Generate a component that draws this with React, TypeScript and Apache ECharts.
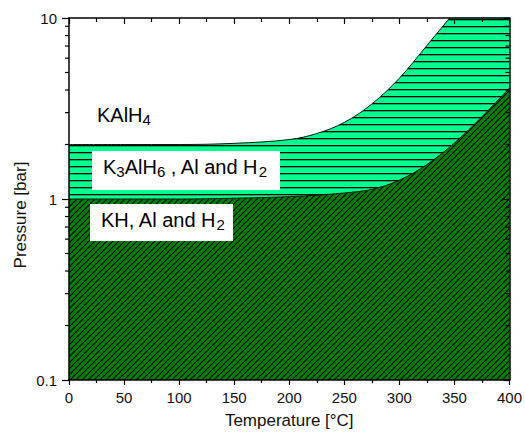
import React, { useEffect, useRef } from 'react';
import * as echarts from 'echarts';

// ---- data ----
const temperatures = [0, 50, 100, 150, 200, 225, 250, 275, 300, 325, 350, 375, 400];
// upper boundary: KAlH4 / K3AlH6 (bar)
const kalh4Boundary = [2.0, 2.0, 2.0, 2.03, 2.13, 2.3, 2.65, 3.35, 4.65, 7.05, 10.8, 17, 27];
// lower boundary: K3AlH6 / KH (bar)
const khBoundary = [1.0, 1.0, 1.0, 1.01, 1.03, 1.05, 1.08, 1.13, 1.27, 1.55, 2.04, 2.85, 4.1];
const yMajorTicks = [0.1, 1, 10];
const yMinorTicks = [0.2, 0.3, 0.4, 0.5, 0.6, 0.7, 0.8, 0.9, 2, 3, 4, 5, 6, 7, 8, 9];

const FONT = '"Liberation Sans", Arial, Helvetica, sans-serif';

function diagonalPattern() {
  const s = 6;
  const c = document.createElement('canvas');
  c.width = s;
  c.height = s;
  const g = c.getContext('2d')!;
  g.fillStyle = '#008000';
  g.fillRect(0, 0, s, s);
  g.strokeStyle = '#000000';
  g.lineWidth = 1.1;
  g.beginPath();
  g.moveTo(-1, s + 1);
  g.lineTo(s + 1, -1);
  g.moveTo(-2, 2);
  g.lineTo(2, -2);
  g.moveTo(s - 2, s + 2);
  g.lineTo(s + 2, s - 2);
  g.stroke();
  return { image: c.toDataURL(), repeat: 'repeat', imageWidth: s, imageHeight: s } as any;
}

function horizontalPattern() {
  const w = 4;
  const h = 7;
  const c = document.createElement('canvas');
  c.width = w;
  c.height = h;
  const g = c.getContext('2d')!;
  g.fillStyle = '#00FF8C';
  g.fillRect(0, 0, w, h);
  g.fillStyle = '#000000';
  g.fillRect(0, 5, w, 1.3);
  return { image: c.toDataURL(), repeat: 'repeat', imageWidth: w, imageHeight: h } as any;
}

const richStyles = {
  m: { fontSize: 20, fontFamily: FONT, color: '#000', lineHeight: 22, verticalAlign: 'top' },
  s: { fontSize: 15, fontFamily: FONT, color: '#000', lineHeight: 6, verticalAlign: 'bottom' },
};

export default function App() {
  const ref = useRef<HTMLDivElement>(null);
  useEffect(() => {
    if (!ref.current) return;
    const chart = echarts.init(ref.current, undefined, { renderer: 'svg' });
    const axisLine = { show: true, onZero: false, lineStyle: { color: '#000', width: 1.5 } };
    const option: any = {
      animation: false,
      backgroundColor: '#fff',
      grid: { left: 69, right: 9, top: 18, bottom: 54, containLabel: false },
      xAxis: [
        {
          type: 'value', min: 0, max: 400, interval: 50, position: 'bottom', z: 10,
          axisLine,
          axisTick: { show: true, inside: false, length: 5, lineStyle: { color: '#000', width: 1.2 } },
          minorTick: { show: true, splitNumber: 2, length: 3, lineStyle: { color: '#000', width: 1.2 } },
          splitLine: { show: false },
          axisLabel: {
            fontSize: 15, fontFamily: FONT, color: '#111', margin: 10,
            alignMinLabel: 'center', alignMaxLabel: 'center',
          },
          name: 'Temperature [°C]', nameLocation: 'middle', nameGap: 32,
          nameTextStyle: { fontSize: 17, fontFamily: FONT, color: '#111' },
        },
        {
          type: 'value', min: 0, max: 400, interval: 50, position: 'top', z: 10,
          axisLine,
          axisTick: { show: true, inside: true, length: 6, lineStyle: { color: '#000', width: 1.2 } },
          minorTick: { show: true, splitNumber: 2, length: 4, lineStyle: { color: '#000', width: 1.2 } },
          splitLine: { show: false },
          axisLabel: { show: false },
        },
      ],
      yAxis: [
        {
          type: 'log', logBase: 10, min: 0.1, max: 10, position: 'left', z: 10,
          axisLine,
          axisTick: { show: true, inside: false, length: 7, lineStyle: { color: '#000', width: 1.2 } },
          splitLine: { show: false },
          axisLabel: {
            fontSize: 15, fontFamily: FONT, color: '#111', margin: 12,
            formatter: (v: number) => {
              const t = yMajorTicks.find((m) => Math.abs(m - v) < 1e-9 * Math.max(1, m));
              return t === undefined ? '' : String(t);
            },
          },
        },
        {
          type: 'log', logBase: 10, min: 0.1, max: 10, position: 'right', z: 10,
          axisLine,
          axisTick: { show: true, inside: true, length: 6, lineStyle: { color: '#000', width: 1.2 } },
          splitLine: { show: false },
          axisLabel: { show: false },
        },
      ],
      series: [
        {
          type: 'line', name: 'KAlH4 boundary', xAxisIndex: 0, yAxisIndex: 0,
          data: temperatures.map((t, i) => [t, kalh4Boundary[i]]),
          smooth: 0.35, showSymbol: false, symbol: 'none',
          lineStyle: { color: '#0a1a10', width: 1 },
          areaStyle: { origin: 'start', color: horizontalPattern(), opacity: 1 },
          z: 2,
        },
        {
          type: 'line', name: 'KH boundary', xAxisIndex: 0, yAxisIndex: 0,
          data: temperatures.map((t, i) => [t, khBoundary[i]]),
          smooth: 0.35, showSymbol: false, symbol: 'none',
          lineStyle: { color: '#0a1a10', width: 1 },
          areaStyle: { origin: 'start', color: diagonalPattern(), opacity: 1 },
          z: 3,
        },
        {
          type: 'custom', xAxisIndex: 0, yAxisIndex: 0, silent: true, clip: false, z: 11,
          data: yMinorTicks.map((v) => [0, v]),
          encode: { x: 0, y: 1 },
          renderItem: (_p: any, api: any) => {
            const v = api.value(1);
            const l = api.coord([0, v]);
            const r = api.coord([400, v]);
            const st = { stroke: '#000', lineWidth: 1.2 };
            return {
              type: 'group',
              children: [
                { type: 'line', shape: { x1: l[0] - 4, y1: l[1], x2: l[0], y2: l[1] }, style: st },
                { type: 'line', shape: { x1: r[0] - 4, y1: r[1], x2: r[0], y2: r[1] }, style: st },
              ],
            };
          },
        },
      ],
      graphic: [
        {
          type: 'text', x: 20, y: 215, rotation: Math.PI / 2, z: 20,
          style: {
            text: 'Pressure [bar]', fill: '#111', fontSize: 17, fontFamily: FONT,
            align: 'center', verticalAlign: 'middle',
          },
        },
        {
          type: 'text', x: 97, y: 105, z: 20,
          style: { text: '{m|KAlH}{s|4}', rich: richStyles },
        },
        {
          type: 'rect', shape: { x: 92, y: 151, width: 188, height: 39 }, z: 20,
          style: { fill: '#fff' },
        },
        {
          type: 'text', x: 103, y: 157, z: 21,
          style: { text: '{m|K}{s|3}{m|AlH}{s|6}{m| , Al and H}{s|2}', rich: richStyles },
        },
        {
          type: 'rect', shape: { x: 90, y: 204, width: 143, height: 37 }, z: 20,
          style: { fill: '#fff' },
        },
        {
          type: 'text', x: 101, y: 210, z: 21,
          style: { text: '{m|KH, Al and H}{s|2}', rich: richStyles },
        },
      ],
    };
    chart.setOption(option);
    return () => chart.dispose();
  }, []);
  return (
    <div
      ref={ref}
      style={{ position: 'fixed', left: 0, top: 0, width: 525, height: 434, background: '#fff' }}
    />
  );
}
